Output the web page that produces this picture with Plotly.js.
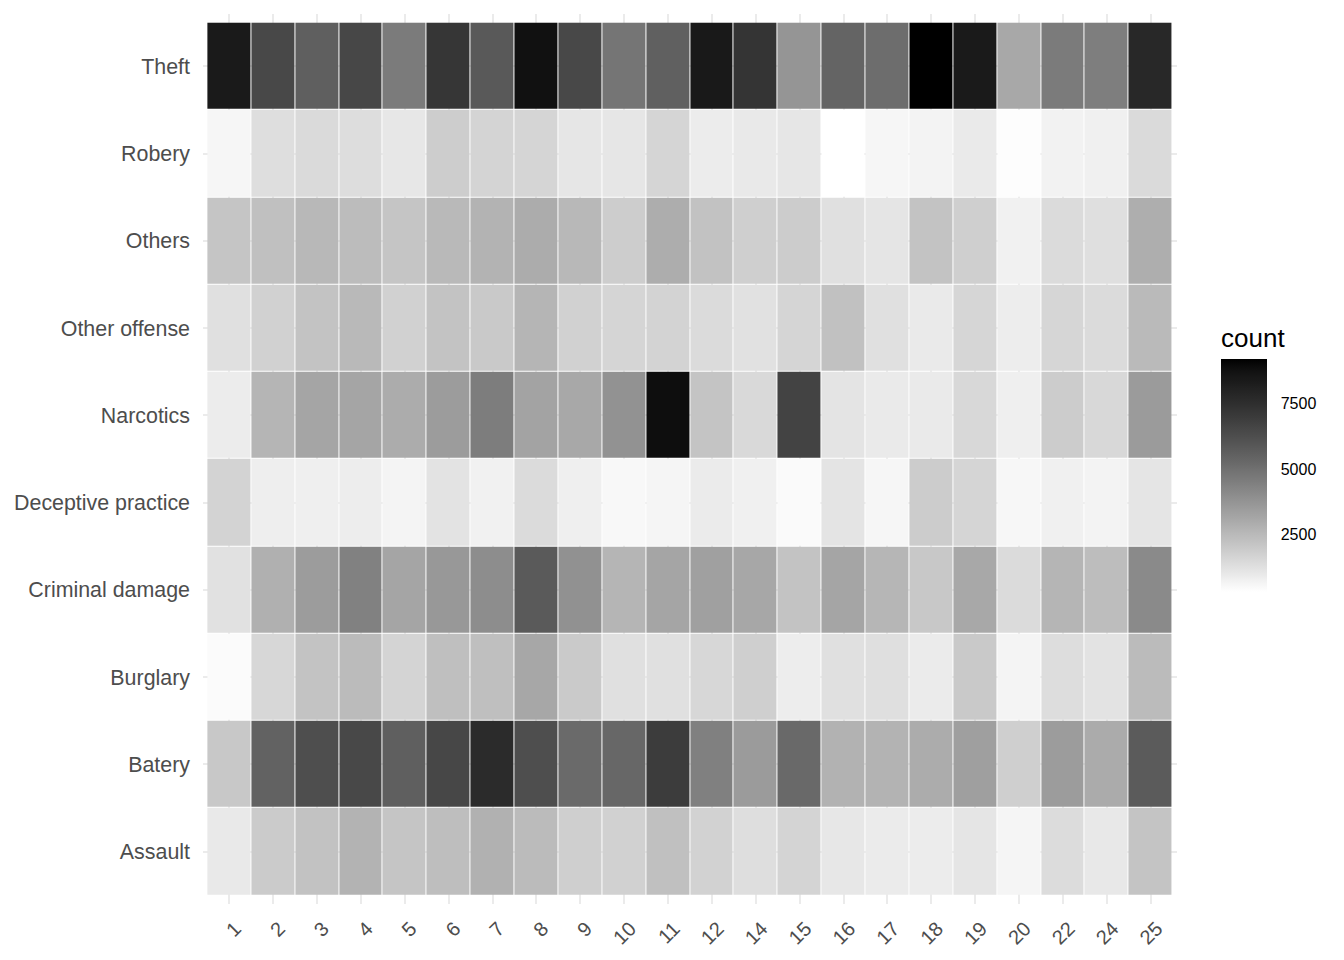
<!DOCTYPE html>
<html>
<head>
<meta charset="utf-8">
<script src="https://cdn.plot.ly/plotly-3.0.1.min.js"></script>
<style>
  html, body { margin: 0; padding: 0; background: #ffffff; }
  #chart { width: 1344px; height: 960px; }
</style>
</head>
<body>
<div id="chart"></div>
<script>
// Police districts (x categories)
const districts = ["1","2","3","4","5","6","7","8","9","10","11","12","14","15","16","17","18","19","20","22","24","25"];
// Crime types (y categories, bottom to top)
const crimeTypes = ["Assault","Batery","Burglary","Criminal damage","Deceptive practice","Narcotics","Other offense","Others","Robery","Theft"];

// Counts per district, one array per crime type
const assault           = [991,1940,2231,2720,2134,2360,2785,2457,1813,1749,2296,1717,1337,1654,1054,929,897,1117,619,1400,1022,2166];
const batery            = [2037,5513,6260,6489,5624,6527,7671,6260,5222,5330,6960,4442,3516,5258,2753,2720,2949,3383,1813,3483,2982,5772];
const burglary          = [434,1558,2199,2457,1654,2328,2328,3115,1973,1274,1274,1558,1813,866,1274,1305,929,2005,650,1368,1179,2457];
const criminalDamage    = [1242,2818,3483,4407,3182,3617,3993,5808,3856,2654,3182,3349,3115,2199,3182,2621,2037,3082,1431,2654,2393,4095];
const deceptivePractice = [1685,835,804,866,650,1179,742,1431,804,526,619,929,773,464,1148,588,1908,1622,557,773,680,1117];
const narcotics         = [897,2654,3182,3182,2949,3483,4547,3249,3082,3822,8857,2166,1495,6681,1148,960,960,1526,804,1908,1526,3516];
const otherOffense      = [1274,1749,2199,2523,1749,2199,2005,2654,1749,1622,1685,1431,1242,1622,2263,1274,960,1590,866,1590,1431,2490];
const others            = [2134,2296,2556,2425,2134,2523,2720,2949,2556,1876,2917,2231,1813,1908,1274,1117,2199,1813,742,1431,1305,2884];
const robery            = [588,1337,1463,1368,1054,1876,1654,1622,1085,1085,1622,897,991,1085,310,588,680,960,372,711,773,1463];
const theft             = [8386,6489,5624,6527,4616,7199,5845,8760,6489,4828,5587,8430,7279,3720,5439,5115,9210,8386,3082,4616,4512,7776];

const colorbarTicks = [2500, 5000, 7500];

const zRows = [assault, batery, burglary, criminalDamage, deceptivePractice, narcotics, otherOffense, others, robery, theft];

// white -> black gradient interpolated in CIELAB lightness (as ggplot does)
function grayFromL(L) {
  const Y = L > 8 ? Math.pow((L + 16) / 116, 3) : L / 903.3;
  const s = Y <= 0.0031308 ? 12.92 * Y : 1.055 * Math.pow(Y, 1 / 2.4) - 0.055;
  const g = Math.max(0, Math.min(255, Math.round(255 * s)));
  return 'rgb(' + g + ',' + g + ',' + g + ')';
}
const colorscale = [];
for (let i = 0; i <= 40; i++) {
  const t = i / 40;
  colorscale.push([t, grayFromL(100 * (1 - t))]);
}

const trace = {
  type: 'heatmap',
  x: districts,
  y: crimeTypes,
  z: zRows,
  colorscale: colorscale,
  zmin: 310,
  zmax: 9210,
  xgap: 1,
  ygap: 1,
  hoverinfo: 'x+y+z',
  colorbar: {
    title: { text: 'count', side: 'top', font: { family: 'Liberation Sans, Arial, sans-serif', size: 26, color: '#000000' } },
    thickness: 46,
    thicknessmode: 'pixels',
    len: 268,
    lenmode: 'pixels',
    x: 1.0452,
    xanchor: 'left',
    xpad: 0,
    y: 0.501,
    yanchor: 'middle',
    ypad: 0,
    outlinewidth: 0,
    tickvals: colorbarTicks,
    ticktext: colorbarTicks.map(String),
    ticks: 'outside',
    ticklen: 11,
    tickcolor: 'rgba(255,255,255,0)',
    tickfont: { family: 'Liberation Sans, Arial, sans-serif', size: 16, color: '#000000' }
  }
};

const layout = {
  width: 1344,
  height: 960,
  margin: { l: 203, r: 167, t: 14, b: 56 },
  paper_bgcolor: '#ffffff',
  plot_bgcolor: '#ffffff',
  font: { family: 'Liberation Sans, Arial, sans-serif' },
  xaxis: {
    type: 'category',
    categoryorder: 'array',
    categoryarray: districts,
    range: [-0.6, districts.length - 0.4],
    showgrid: true,
    gridcolor: '#EBEBEB',
    gridwidth: 1.5,
    zeroline: false,
    showline: false,
    ticks: '',
    tickangle: -45,
    ticklabelstandoff: 8,
    ticklabelshift: 6,
    tickfont: { size: 20, color: '#4D4D4D' }
  },
  yaxis: {
    type: 'category',
    categoryorder: 'array',
    categoryarray: crimeTypes,
    range: [-0.6, crimeTypes.length - 0.4],
    showgrid: true,
    gridcolor: '#EBEBEB',
    gridwidth: 1.5,
    zeroline: false,
    showline: false,
    ticks: '',
    ticklabelstandoff: 12,
    tickfont: { size: 21.4, color: '#4D4D4D' }
  }
};

Plotly.newPlot('chart', [trace], layout, { displayModeBar: false, responsive: false });
</script>
</body>
</html>
